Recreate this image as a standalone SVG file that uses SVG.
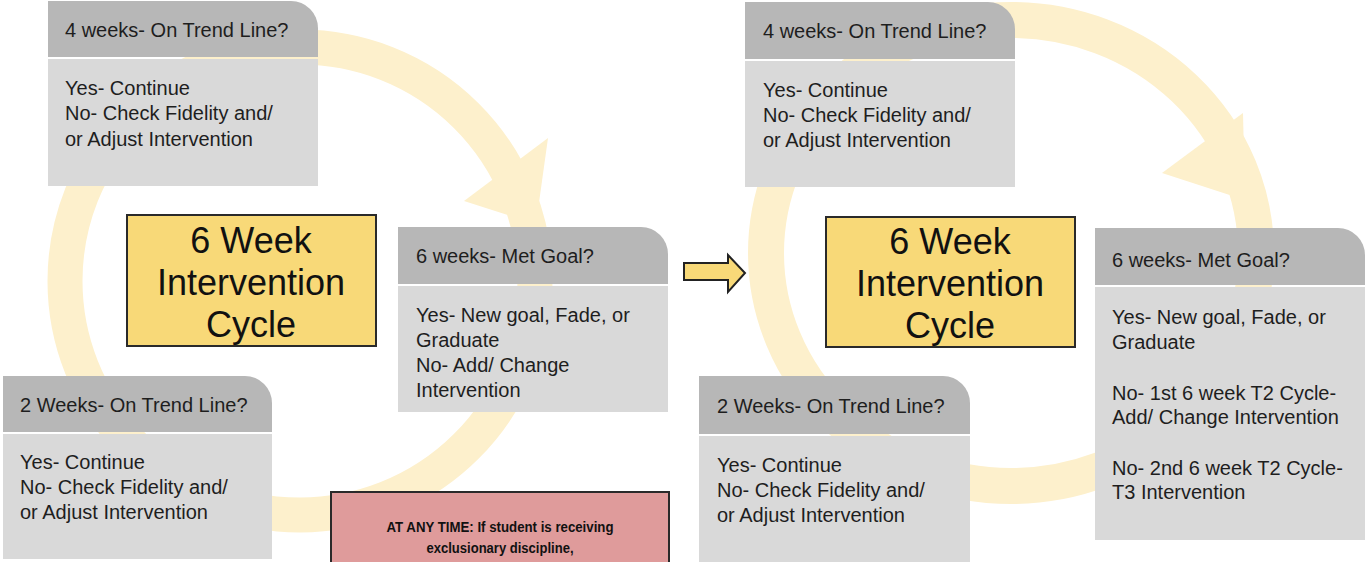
<svg xmlns="http://www.w3.org/2000/svg" width="1365" height="562" viewBox="0 0 1365 562">
<style>
  .ring { fill: none; stroke: #fdf0cc; }
  .head { fill: #fdf0cc; }
  .hdr { fill: #b7b7b7; }
  .bdy { fill: #d9d9d9; }
  .t { font-family: "Liberation Sans", Arial, sans-serif; font-size: 20px; fill: #1e1e1e; }
  .big { font-family: "Liberation Sans", Arial, sans-serif; font-size: 36px; fill: #111; text-anchor: middle; }
  .ylw { fill: #f8d978; stroke: #2a2a2a; stroke-width: 2; }
  .red { fill: #df9b9b; stroke: #2a2a2a; stroke-width: 2; }
  .rt { font-family: "Liberation Sans", Arial, sans-serif; font-size: 14px; font-weight: bold; fill: #111; text-anchor: middle; }
</style>
<rect width="1365" height="562" fill="#ffffff"/>
<g id="connectors">
  <ellipse class="ring" cx="300" cy="281" rx="235" ry="234" stroke-width="35"/>
  <polygon class="head" points="464,201 548,138 536,224"/>
  <ellipse class="ring" cx="1011" cy="253" rx="245" ry="233" stroke-width="36"/>
  <polygon class="head" points="1162,173 1243,113 1245,200"/>
  <polygon id="transition-arrow" points="684,263 728,263 728,255 745,273 728,292 728,280 684,280" fill="#f8d978" stroke="#222" stroke-width="2" stroke-linejoin="miter"/>
</g>
<g id="left-4weeks">
  <path class="hdr" d="M48 1 H291 A27 27 0 0 1 318 28 V57 H48 Z"/>
  <rect class="bdy" x="48" y="59" width="270" height="127"/>
  <text class="t" x="65" y="37">4 weeks- On Trend Line?</text>
  <text class="t" x="65" y="95">Yes- Continue</text>
  <text class="t" x="65" y="120">No- Check Fidelity and/</text>
  <text class="t" x="65" y="146">or Adjust Intervention</text>
</g>
<g id="left-center">
  <rect class="ylw" x="127" y="215" width="249" height="131"/>
  <text class="big" x="251" y="253">6 Week</text>
  <text class="big" x="251" y="295">Intervention</text>
  <text class="big" x="251" y="337">Cycle</text>
</g>
<g id="left-6weeks">
  <path class="hdr" d="M398 227 H641 A27 27 0 0 1 668 254 V284 H398 Z"/>
  <rect class="bdy" x="398" y="286" width="270" height="126"/>
  <text class="t" x="416" y="263">6 weeks- Met Goal?</text>
  <text class="t" x="416" y="322">Yes- New goal, Fade, or</text>
  <text class="t" x="416" y="347">Graduate</text>
  <text class="t" x="416" y="372">No- Add/ Change</text>
  <text class="t" x="416" y="397">Intervention</text>
</g>
<g id="left-2weeks">
  <path class="hdr" d="M3 376 H245 A27 27 0 0 1 272 403 V432 H3 Z"/>
  <rect class="bdy" x="3" y="434" width="269" height="125"/>
  <text class="t" x="20" y="412">2 Weeks- On Trend Line?</text>
  <text class="t" x="20" y="469">Yes- Continue</text>
  <text class="t" x="20" y="494">No- Check Fidelity and/</text>
  <text class="t" x="20" y="519">or Adjust Intervention</text>
</g>
<g id="any-time-note">
  <rect class="red" x="331" y="492" width="338" height="90"/>
  <text class="rt" x="500" y="532" textLength="227" lengthAdjust="spacingAndGlyphs">AT ANY TIME: If student is receiving</text>
  <text class="rt" x="500" y="553" textLength="147" lengthAdjust="spacingAndGlyphs">exclusionary discipline,</text>
</g>
<g id="right-4weeks">
  <path class="hdr" d="M745 2 H988 A27 27 0 0 1 1015 29 V59 H745 Z"/>
  <rect class="bdy" x="745" y="61" width="270" height="126"/>
  <text class="t" x="763" y="38">4 weeks- On Trend Line?</text>
  <text class="t" x="763" y="97">Yes- Continue</text>
  <text class="t" x="763" y="122">No- Check Fidelity and/</text>
  <text class="t" x="763" y="147">or Adjust Intervention</text>
</g>
<g id="right-center">
  <rect class="ylw" x="826" y="217" width="249" height="130"/>
  <text class="big" x="950" y="254">6 Week</text>
  <text class="big" x="950" y="296">Intervention</text>
  <text class="big" x="950" y="338">Cycle</text>
</g>
<g id="right-6weeks">
  <path class="hdr" d="M1095 228 H1338 A27 27 0 0 1 1365 255 V285 H1095 Z"/>
  <rect class="bdy" x="1095" y="287" width="270" height="253"/>
  <text class="t" x="1112" y="267">6 weeks- Met Goal?</text>
  <text class="t" x="1112" y="324">Yes- New goal, Fade, or</text>
  <text class="t" x="1112" y="349">Graduate</text>
  <text class="t" x="1112" y="400">No- 1st 6 week T2 Cycle-</text>
  <text class="t" x="1112" y="424">Add/ Change Intervention</text>
  <text class="t" x="1112" y="475">No- 2nd 6 week T2 Cycle-</text>
  <text class="t" x="1112" y="499">T3 Intervention</text>
</g>
<g id="right-2weeks">
  <path class="hdr" d="M699 376 H943 A27 27 0 0 1 970 403 V434 H699 Z"/>
  <rect class="bdy" x="699" y="436" width="271" height="130"/>
  <text class="t" x="717" y="413">2 Weeks- On Trend Line?</text>
  <text class="t" x="717" y="472">Yes- Continue</text>
  <text class="t" x="717" y="497">No- Check Fidelity and/</text>
  <text class="t" x="717" y="522">or Adjust Intervention</text>
</g>
</svg>
